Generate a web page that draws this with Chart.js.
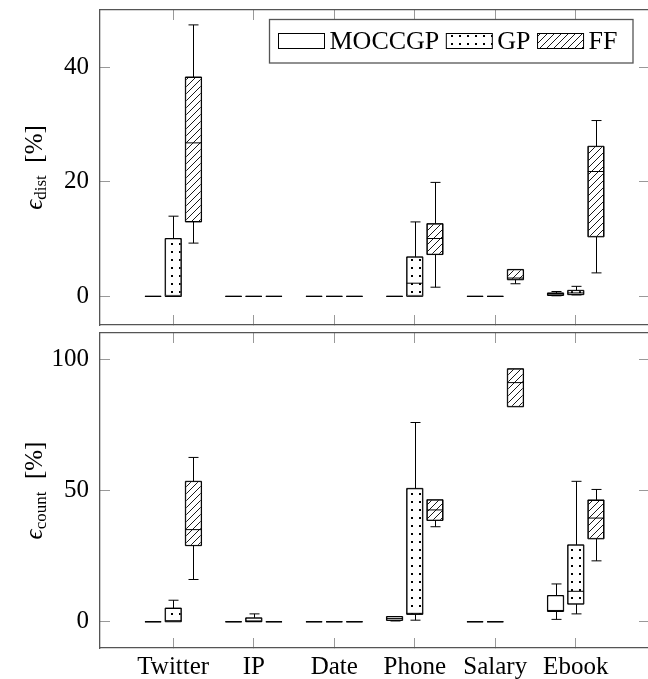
<!DOCTYPE html>
<html>
<head>
<meta charset="utf-8">
<script src="https://cdn.jsdelivr.net/npm/chart.js@4/dist/chart.umd.min.js"></script>
<style>
  body { margin: 0; background: #fff; overflow: hidden; }
  #wrap { position: relative; width: 648px; height: 679px; overflow: hidden; }
  canvas { position: absolute; left: 0; }
</style>
</head>
<body>
<div id="wrap">
  <canvas id="dist" width="650" height="330" style="top:0"></canvas>
  <canvas id="count" width="650" height="349" style="top:330px"></canvas>
</div>
<script>
const categories = ['Twitter', 'IP', 'Date', 'Phone', 'Salary', 'Ebook'];
const methods = ['MOCCGP', 'GP', 'FF'];
const distTicks = [0, 20, 40];
const countTicks = [0, 50, 100];

// each entry: [lower whisker, q1, median, q3, upper whisker]
const distMOCCGP = [[0, 0, 0, 0, 0], [0, 0, 0, 0, 0], [0, 0, 0, 0, 0], [0, 0, 0, 0, 0], [0, 0, 0, 0, 0], [0.1, 0.15, 0.4, 0.6, 0.85]];
const distGP = [[0, 0, 0, 10.1, 14], [0, 0, 0, 0, 0], [0, 0, 0, 0, 0], [0, 0, 2.3, 6.9, 13], [0, 0, 0, 0, 0], [0.25, 0.3, 0.6, 1.05, 1.75]];
const distFF = [[9.3, 13, 26.8, 38.3, 47.4], [0, 0, 0, 0, 0], [0, 0, 0, 0, 0], [1.6, 7.3, 10.1, 12.7, 19.9], [2.2, 2.9, 3.2, 4.7, 4.7], [4.1, 10.4, 21.8, 26.2, 30.7]];

const countMOCCGP = [[0, 0, 0, 0, 0], [0, 0, 0, 0, 0], [0, 0, 0, 0, 0], [0.3, 0.5, 1.2, 2.0, 2.0], [0, 0, 0, 0, 0], [0.9, 3.9, 4.3, 10.0, 14.4]];
const countGP = [[0, 0, 0.3, 5.2, 8.2], [0, 0, 0.1, 1.5, 3.0], [0, 0, 0, 0, 0], [0.6, 2.8, 3.2, 50.8, 75.9], [0, 0, 0, 0, 0], [3.0, 6.7, 11.6, 29.3, 53.5]];
const countFF = [[16.1, 29.0, 35.1, 53.5, 62.6], [0, 0, 0, 0, 0], [0, 0, 0, 0, 0], [36.2, 38.6, 42.6, 46.5, 46.5], [81.9, 81.9, 91.1, 96.4, 96.4], [23.2, 31.6, 39.5, 46.4, 50.4]];

const FONT = '"Liberation Serif", "Times New Roman", serif';
const FRAME = '#555';
const TICK = '#999';

Chart.defaults.font.family = FONT;
Chart.defaults.font.size = 25;
Chart.defaults.color = '#000';

function makePattern(kind) {
  const size = kind === 'dots' ? 8 : 7;
  const c = document.createElement('canvas');
  c.width = size;
  c.height = size;
  const g = c.getContext('2d');
  g.fillStyle = '#fff';
  g.fillRect(0, 0, size, size);
  g.fillStyle = '#000';
  g.strokeStyle = '#000';
  if (kind === 'dots') {
    g.fillRect(3, 3, 2, 2);
  } else if (kind === 'lines') {
    g.lineWidth = 0.9;
    g.beginPath();
    g.moveTo(0, size); g.lineTo(size, 0);
    g.moveTo(-2, 2); g.lineTo(2, -2);
    g.moveTo(size - 2, size + 2); g.lineTo(size + 2, size - 2);
    g.stroke();
  }
  return g.createPattern(c, 'repeat');
}

const fills = [makePattern('plain'), makePattern('dots'), makePattern('lines')];

function fixSize(w, h) {
  return (scale) => {
    if (w !== null) scale.width = w;
    if (h !== null) scale.height = h;
    scale.paddingTop = 0;
    scale.paddingBottom = 0;
    scale.paddingLeft = 0;
    scale.paddingRight = 0;
  };
}

function setTicks(values) {
  return (scale) => {
    scale.ticks = values.map((v) => ({ value: v }));
  };
}

function xAxis(position, height, showLabels) {
  return {
    type: 'linear',
    position: position,
    min: -0.91,
    max: 5.91,
    offset: false,
    grid: { offset: false, drawOnChartArea: false, tickLength: -10, color: TICK },
    border: { color: FRAME, width: 1.3 },
    ticks: {
      display: showLabels,
      autoSkip: false,
      maxRotation: 0,
      padding: 14,
      callback: (v) => categories[v],
    },
    afterBuildTicks: setTicks(categories.map((c, i) => i)),
    afterFit: fixSize(null, height),
  };
}

function yAxis(position, min, max, ticks, width, showLabels) {
  return {
    type: 'linear',
    position: position,
    min: min,
    max: max,
    grid: { drawOnChartArea: false, tickLength: -10, color: TICK },
    border: { color: FRAME, width: 1.3 },
    ticks: { display: showLabels, padding: 21 },
    afterBuildTicks: setTicks(ticks),
    afterFit: fixSize(width, null),
  };
}

function makeDatasets(series) {
  return series.map((stats, k) => ({
    label: methods[k],
    stats: stats,
    data: stats.map((s, i) => ({ x: i, y: [s[1], s[3]] })),
    backgroundColor: fills[k],
    borderColor: '#000',
    borderWidth: 1,
    borderSkipped: false,
    inflateAmount: 0,
    categoryPercentage: 0.753,
    barPercentage: 0.8,
  }));
}

// whiskers, medians and outline of each box
const boxPlugin = {
  id: 'boxes',
  afterDatasetsDraw(chart) {
    const ctx = chart.ctx;
    const y = chart.scales.y;
    ctx.save();
    ctx.strokeStyle = '#000';
    ctx.lineWidth = 1;
    chart.data.datasets.forEach((ds, di) => {
      const meta = chart.getDatasetMeta(di);
      meta.data.forEach((bar, i) => {
        const p = bar.getProps(['x', 'width']);
        const s = ds.stats[i];
        const x0 = p.x - p.width / 2;
        const x1 = p.x + p.width / 2;
        const xc = Math.round(p.x) + 0.5;
        const yLo = y.getPixelForValue(s[0]);
        const yQ1 = y.getPixelForValue(s[1]);
        const yMed = y.getPixelForValue(s[2]);
        const yQ3 = y.getPixelForValue(s[3]);
        const yHi = y.getPixelForValue(s[4]);
        ctx.beginPath();
        ctx.rect(x0, yQ3, x1 - x0, yQ1 - yQ3);
        ctx.moveTo(x0, yMed); ctx.lineTo(x1, yMed);
        if (s[4] > s[3]) {
          ctx.moveTo(xc, yQ3); ctx.lineTo(xc, yHi);
          ctx.moveTo(xc - 5, yHi); ctx.lineTo(xc + 5, yHi);
        }
        if (s[0] < s[1]) {
          ctx.moveTo(xc, yQ1); ctx.lineTo(xc, yLo);
          ctx.moveTo(xc - 5, yLo); ctx.lineTo(xc + 5, yLo);
        }
        ctx.stroke();
      });
    });
    ctx.restore();
  },
};

const yTitlePlugin = {
  id: 'yTitle',
  afterDraw(chart, args, opts) {
    const { ctx, chartArea } = chart;
    const cy = (chartArea.top + chartArea.bottom) / 2;
    const big = '25px ' + FONT;
    const small = '17px ' + FONT;
    ctx.save();
    ctx.translate(opts.x, cy);
    ctx.rotate(-Math.PI / 2);
    ctx.font = 'italic ' + big;
    const w1 = ctx.measureText('ϵ').width;
    ctx.font = small;
    const w2 = ctx.measureText(opts.sub).width;
    ctx.font = big;
    const w3 = ctx.measureText('  [%]').width;
    let x = -(w1 + w2 + w3) / 2;
    ctx.fillStyle = '#000';
    ctx.textBaseline = 'alphabetic';
    ctx.font = 'italic ' + big;
    ctx.fillText('ϵ', x, 0);
    x += w1;
    ctx.font = small;
    ctx.fillText(opts.sub, x, 4);
    x += w2;
    ctx.font = big;
    ctx.fillText('  [%]', x, 0);
    ctx.restore();
  },
};

const legendPlugin = {
  id: 'boxLegend',
  afterDraw(chart) {
    const ctx = chart.ctx;
    const left = 269.5, top = 19.5, right = 633, bottom = 63;
    ctx.save();
    ctx.fillStyle = '#fff';
    ctx.fillRect(left, top, right - left, bottom - top);
    ctx.strokeStyle = FRAME;
    ctx.lineWidth = 1.3;
    ctx.strokeRect(left, top, right - left, bottom - top);
    ctx.font = '26px ' + FONT;
    ctx.textBaseline = 'alphabetic';
    let x = left + 9;
    chart.data.datasets.forEach((ds) => {
      ctx.fillStyle = ds.backgroundColor;
      ctx.fillRect(x, 33.5, 46, 15);
      ctx.strokeStyle = '#000';
      ctx.lineWidth = 1;
      ctx.strokeRect(x, 33.5, 46, 15);
      x += 51;
      ctx.fillStyle = '#000';
      ctx.fillText(ds.label, x, 48.5);
      x += ctx.measureText(ds.label).width + 7;
    });
    ctx.restore();
  },
};

function makeChart(id, series, yMin, yMax, ticks, topH, bottomH, showX, sub, withLegend) {
  const plugins = [boxPlugin, yTitlePlugin];
  if (withLegend) plugins.push(legendPlugin);
  return new Chart(document.getElementById(id), {
    type: 'bar',
    data: { datasets: makeDatasets(series) },
    options: {
      responsive: false,
      animation: false,
      layout: { padding: 0 },
      plugins: {
        legend: { display: false },
        tooltip: { enabled: false },
        yTitle: { x: 42, sub: sub },
      },
      scales: {
        x: xAxis('bottom', bottomH, showX),
        x2: xAxis('top', topH, false),
        y: yAxis('left', yMin, yMax, ticks, 100, true),
        y2: yAxis('right', yMin, yMax, ticks, 1, false),
      },
    },
    plugins: plugins,
  });
}

makeChart('dist', [distMOCCGP, distGP, distFF], -5, 50, distTicks, 10, 5, false, 'dist', true);
makeChart('count', [countMOCCGP, countGP, countFF], -10, 110, countTicks, 3, 31, true, 'count', false);
</script>
</body>
</html>
